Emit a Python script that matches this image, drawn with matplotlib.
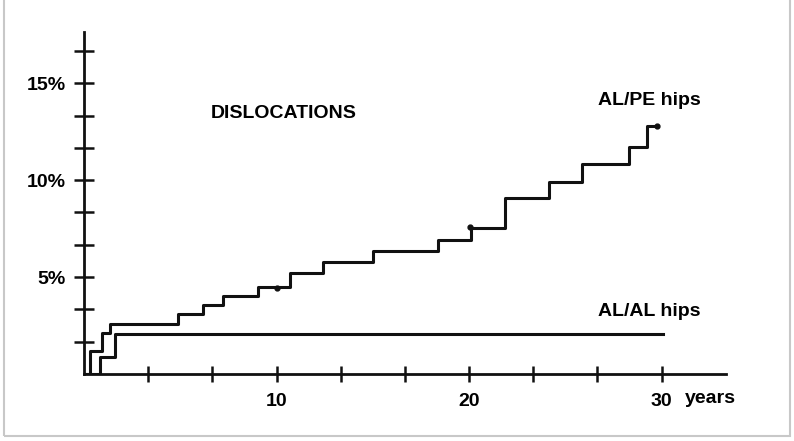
import matplotlib
matplotlib.use("Agg")
from matplotlib import pyplot as plt
from matplotlib.patches import Rectangle

# cumulative dislocation rate (%) vs years
pe_years = [0, 0.31, 0.92, 1.35, 4.9, 6.17, 7.2, 9.05, 10.7, 12.39, 15.02,
            18.39, 20.1, 21.86, 24.18, 25.88, 28.3, 29.23, 29.75]
pe_pct = [0, 1.19, 2.10, 2.56, 3.08, 3.56, 4.04, 4.50, 5.23, 5.80, 6.36,
          6.91, 7.52, 9.10, 9.89, 10.84, 11.73, 12.8, 12.8]
pe_censor_years = [10.0, 20.05, 29.75]
pe_censor_pct = [4.42, 7.6, 12.8]

al_years = [0, 0.83, 1.61, 30.06]
al_pct = [0, 0.89, 2.08, 2.08]

y_ticks = [k * 5 / 3 for k in range(1, 11)]
y_labels = ["", "", "5%", "", "", "10%", "", "", "15%", ""]
x_ticks = [k * 10 / 3 for k in range(1, 10)]
x_labels = ["", "", "10", "", "", "20", "", "", "30"]

plt.rcParams['font.family'] = ['Liberation Sans', 'DejaVu Sans']
plt.rcParams['font.weight'] = 'bold'

fig = plt.figure(figsize=(7.94, 4.41), dpi=100)
fig.patches.append(Rectangle((4 / 794, 5 / 441), 786 / 794, 440 / 441,
                             transform=fig.transFigure, fill=False,
                             edgecolor='#c8c8c8', linewidth=1.5))
ax = fig.add_axes([84 / 794, 1 - 374 / 441, (726 - 84) / 794, (374 - 31.7) / 441])

ax.step(pe_years, pe_pct, where='post', color='#111111', lw=2.2)
ax.step(al_years, al_pct, where='post', color='#111111', lw=2.2)
ax.plot(pe_censor_years, pe_censor_pct, 'o', color='#111111', ms=3.5)

ax.set_xlim(0, 33.35)
ax.set_ylim(0, 17.66)
for s in ['top', 'right']:
    ax.spines[s].set_visible(False)
for s in ['left', 'bottom']:
    ax.spines[s].set_linewidth(2)
    ax.spines[s].set_color('#111111')

ax.set_yticks(y_ticks)
ax.set_yticklabels(y_labels)
ax.set_xticks(x_ticks)
ax.set_xticklabels(x_labels)
ax.tick_params(axis='y', direction='inout', length=14, width=1.8, pad=6,
               labelsize=14, color='#111111')
ax.tick_params(axis='x', direction='inout', length=11, width=1.8, pad=8,
               labelsize=14, color='#111111')

ax.text(10.36, 13.42, "DISLOCATIONS", ha='center', va='center', fontsize=14, fontweight='bold')
ax.text(29.38, 14.09, "AL/PE hips", ha='center', va='center', fontsize=14, fontweight='bold')
ax.text(29.38, 3.25, "AL/AL hips", ha='center', va='center', fontsize=14, fontweight='bold')
ax.text(31.22, -1.24, "years", ha='left', va='center', fontsize=14, fontweight='bold')

fig.savefig("out.png", dpi=100)
